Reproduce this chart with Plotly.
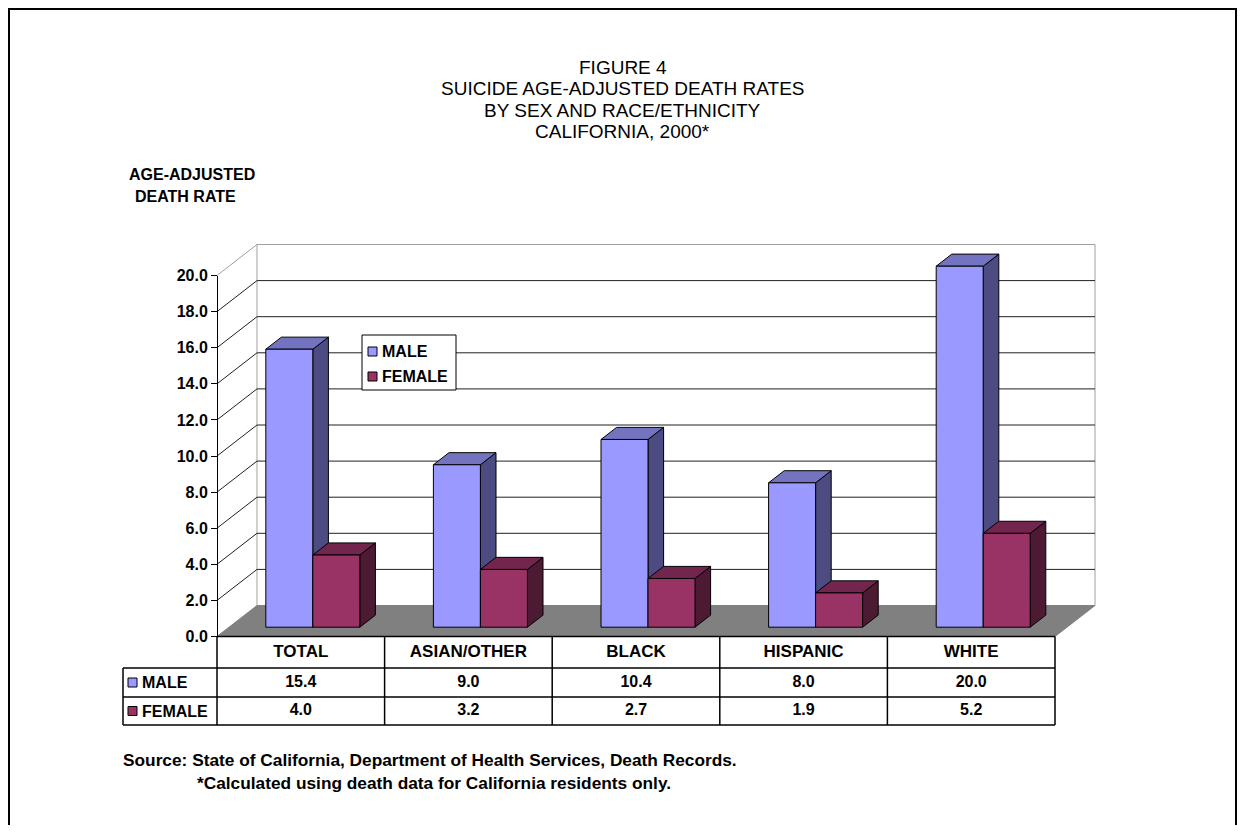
import plotly.graph_objects as go

# --------------------------------------------------------
# DATA
# --------------------------------------------------------

categories = ["TOTAL", "ASIAN/OTHER", "BLACK", "HISPANIC", "WHITE"]

male_rates = [15.4, 9.0, 10.4, 8.0, 20.0]

female_rates = [4.0, 3.2, 2.7, 1.9, 5.2]

series_names = ["MALE", "FEMALE"]

y_ticks = [0, 2, 4, 6, 8, 10, 12, 14, 16, 18, 20]

title_lines = [
    "FIGURE 4",
    "SUICIDE AGE-ADJUSTED DEATH RATES",
    "BY SEX AND RACE/ETHNICITY",
    "CALIFORNIA, 2000*",
]

source_lines = [
    "Source: State of California, Department of Health Services, Death Records.",
    "*Calculated using death data for California residents only.",
]


# --------------------------------------------------------
# GEOMETRY / STYLE  (pixel values are page coordinates)
# --------------------------------------------------------

OFF = 8                      # page margin around the figure
W, H = 1245 - 2 * OFF, 833 - 2 * OFF

PX0 = 217.0      # page x of the front-left corner of the chart
CAT_W = 167.6    # pixels per category
PY0 = 636.5      # page y of the value 0 on the front plane
VPX = 18.05      # pixels per value unit

DX = 40 / CAT_W  # full depth offset in data units
DY = 31 / VPX
DEPTH0 = 0.30    # where the bar front faces sit in the depth
DEPTH_B = 0.39   # bar depth
BAR_W = 47 / CAT_W
YMAX = 20

FONT = "Liberation Sans, Arial, sans-serif"

COLORS = {
    "MALE": dict(front="#9999FF", top="#7373C0", side="#4C4C82"),
    "FEMALE": dict(front="#993366", top="#73264D", side="#4D1A33"),
}


def px_x(p):
    return (p - PX0) / CAT_W


def px_y(p):
    return (PY0 - p) / VPX


def paper_x(p):
    return (p - OFF) / W


def paper_y(p):
    return 1 - (p - OFF) / H


def poly(xs, ys, fill, line="black", width=1):
    return go.Scatter(
        x=list(xs) + [xs[0]],
        y=list(ys) + [ys[0]],
        mode="lines",
        fill="toself",
        fillcolor=fill,
        line=dict(color=line, width=width),
        hoverinfo="skip",
        showlegend=False,
    )


def path(xs, ys, color, width=1):
    return go.Scatter(
        x=xs,
        y=ys,
        mode="lines",
        line=dict(color=color, width=width),
        hoverinfo="skip",
        showlegend=False,
    )


n = len(categories)
bold = dict(family=FONT, size=16, color="black", weight="bold")

fig = go.Figure()

# --------------------------------------------------------
# WALLS, GRID, FLOOR
# --------------------------------------------------------

# back wall outline
fig.add_trace(path(
    [DX, n + DX, n + DX, DX, DX],
    [DY, DY, YMAX + DY, YMAX + DY, DY],
    "#A0A0A0"
))

# left wall top edge
fig.add_trace(path([0, DX], [YMAX, YMAX + DY], "#A0A0A0"))

# grid lines (side wall diagonal + back wall horizontal)
gx, gy = [], []
for v in y_ticks[1:-1]:
    gx += [0, DX, n + DX, None]
    gy += [v, v + DY, v + DY, None]
fig.add_trace(path(gx, gy, "#202020"))

# floor
fig.add_trace(poly([0, n, n + DX, DX], [0, 0, DY, DY], "#808080", "#808080"))

# --------------------------------------------------------
# BARS
# --------------------------------------------------------

bx = DEPTH_B * DX
by = DEPTH_B * DY
y0 = DEPTH0 * DY

for i in range(n):
    cx = i + 0.5 + DEPTH0 * DX
    for j, (name, vals) in enumerate(zip(series_names, [male_rates, female_rates])):
        c = COLORS[name]
        xl = cx - BAR_W + j * BAR_W
        xr = xl + BAR_W
        top = y0 + vals[i]

        fig.add_trace(poly([xr, xr + bx, xr + bx, xr],
                           [y0, y0 + by, top + by, top], c["side"]))
        fig.add_trace(poly([xl, xl + bx, xr + bx, xr],
                           [top, top + by, top + by, top], c["top"]))
        fig.add_trace(poly([xl, xl, xr, xr],
                           [y0, top, top, y0], c["front"]))

# --------------------------------------------------------
# LEGEND BOX
# --------------------------------------------------------

lx0, lx1 = px_x(362), px_x(456)
ly0, ly1 = px_y(390), px_y(335)
fig.add_trace(poly([lx0, lx1, lx1, lx0], [ly0, ly0, ly1, ly1], "white"))

leg_ys = [px_y(351.5), px_y(376.5)]
fig.add_trace(go.Scatter(
    x=[px_x(372.5)] * 2, y=leg_ys,
    mode="markers",
    marker=dict(symbol="square", size=9,
                color=[COLORS[s]["front"] for s in series_names],
                line=dict(color="black", width=1)),
    hoverinfo="skip", showlegend=False,
))
for s, ly in zip(series_names, leg_ys):
    fig.add_annotation(x=px_x(380), y=ly, xref="x", yref="y", text=s,
                       showarrow=False, xanchor="left", yanchor="middle",
                       font=bold)

# --------------------------------------------------------
# DATA TABLE
# --------------------------------------------------------

r1, r2, r3 = px_y(668), px_y(697), px_y(725)
xl_tab = px_x(123)

tx, ty = [0, n, None], [0, 0, None]
for r in (r1, r2, r3):
    tx += [xl_tab, n, None]
    ty += [r, r, None]
tx += [xl_tab, xl_tab, None]
ty += [r1, r3, None]
for k in range(n + 1):
    tx += [k, k, None]
    ty += [0, r3, None]
fig.add_trace(path(tx, ty, "black", 1.5))

fig.add_trace(go.Scatter(
    x=[i + 0.5 for i in range(n)], y=[r1 / 2] * n,
    mode="text", text=categories, textfont=dict(bold, size=17),
    hoverinfo="skip", showlegend=False,
))
fig.add_trace(go.Scatter(
    x=[i + 0.5 for i in range(n)], y=[(r1 + r2) / 2] * n,
    mode="text", text=[f"{v:.1f}" for v in male_rates], textfont=bold,
    hoverinfo="skip", showlegend=False,
))
fig.add_trace(go.Scatter(
    x=[i + 0.5 for i in range(n)], y=[(r2 + r3) / 2] * n,
    mode="text", text=[f"{v:.1f}" for v in female_rates], textfont=bold,
    hoverinfo="skip", showlegend=False,
))

row_ys = [(r1 + r2) / 2, (r2 + r3) / 2]
fig.add_trace(go.Scatter(
    x=[px_x(132.5)] * 2, y=row_ys,
    mode="markers",
    marker=dict(symbol="square", size=9,
                color=[COLORS[s]["front"] for s in series_names],
                line=dict(color="black", width=1)),
    hoverinfo="skip", showlegend=False,
))
for s, ry in zip(series_names, row_ys):
    fig.add_annotation(x=px_x(140), y=ry, xref="x", yref="y", text=s,
                       showarrow=False, xanchor="left", yanchor="middle",
                       font=bold)

# dummy trace for the value axis
fig.add_trace(go.Scatter(x=[None], y=[None], xaxis="x2", yaxis="y2",
                         showlegend=False, hoverinfo="skip"))

# --------------------------------------------------------
# TEXT
# --------------------------------------------------------

for k, line in enumerate(title_lines):
    fig.add_annotation(
        x=paper_x(622.5), y=paper_y(67.5 + 21.3 * k), xref="paper", yref="paper",
        text=line, showarrow=False, xanchor="center", yanchor="middle",
        font=dict(family=FONT, size=19, color="black"),
    )

fig.add_annotation(x=paper_x(127), y=paper_y(174.5), xref="paper", yref="paper",
                   text="AGE-ADJUSTED", showarrow=False, xanchor="left",
                   yanchor="middle", font=bold)
fig.add_annotation(x=paper_x(133), y=paper_y(196.5), xref="paper", yref="paper",
                   text="DEATH RATE", showarrow=False, xanchor="left",
                   yanchor="middle", font=bold)

fig.add_annotation(x=paper_x(121), y=paper_y(760), xref="paper", yref="paper",
                   text=source_lines[0], showarrow=False, xanchor="left",
                   yanchor="middle", font=dict(bold, size=17.3))
fig.add_annotation(x=paper_x(195), y=paper_y(783), xref="paper", yref="paper",
                   text=source_lines[1], showarrow=False, xanchor="left",
                   yanchor="middle", font=dict(bold, size=17.3))

# outer border
fig.add_shape(type="rect", xref="paper", yref="paper",
              x0=1 / W, x1=1 - 1 / W, y0=-0.05, y1=1 - 1 / H,
              line=dict(color="black", width=2))

# --------------------------------------------------------
# LAYOUT
# --------------------------------------------------------

fig.update_layout(
    width=W,
    height=H,
    autosize=False,
    margin=dict(l=0, r=0, t=0, b=0, pad=0, autoexpand=False),
    paper_bgcolor="white",
    plot_bgcolor="rgba(0,0,0,0)",
    showlegend=False,
    xaxis=dict(range=[px_x(OFF), px_x(OFF + W)], visible=False,
               fixedrange=True, automargin=False),
    yaxis=dict(range=[px_y(OFF + H), px_y(OFF)], visible=False,
               fixedrange=True, automargin=False),
    xaxis2=dict(domain=[0, 1], anchor="y2", visible=False, range=[0, 1],
                automargin=False),
    yaxis2=dict(
        domain=[paper_y(PY0), paper_y(PY0 - YMAX * VPX)],
        range=[0, YMAX],
        anchor="free",
        position=paper_x(PX0),
        automargin=False,
        tickvals=y_ticks,
        ticktext=[f"{v:.1f}" for v in y_ticks],
        ticks="outside",
        ticklen=6,
        tickcolor="black",
        showline=True,
        linecolor="black",
        linewidth=1,
        showgrid=False,
        zeroline=False,
        tickfont=bold,
    ),
)

fig.write_html("out.html")
